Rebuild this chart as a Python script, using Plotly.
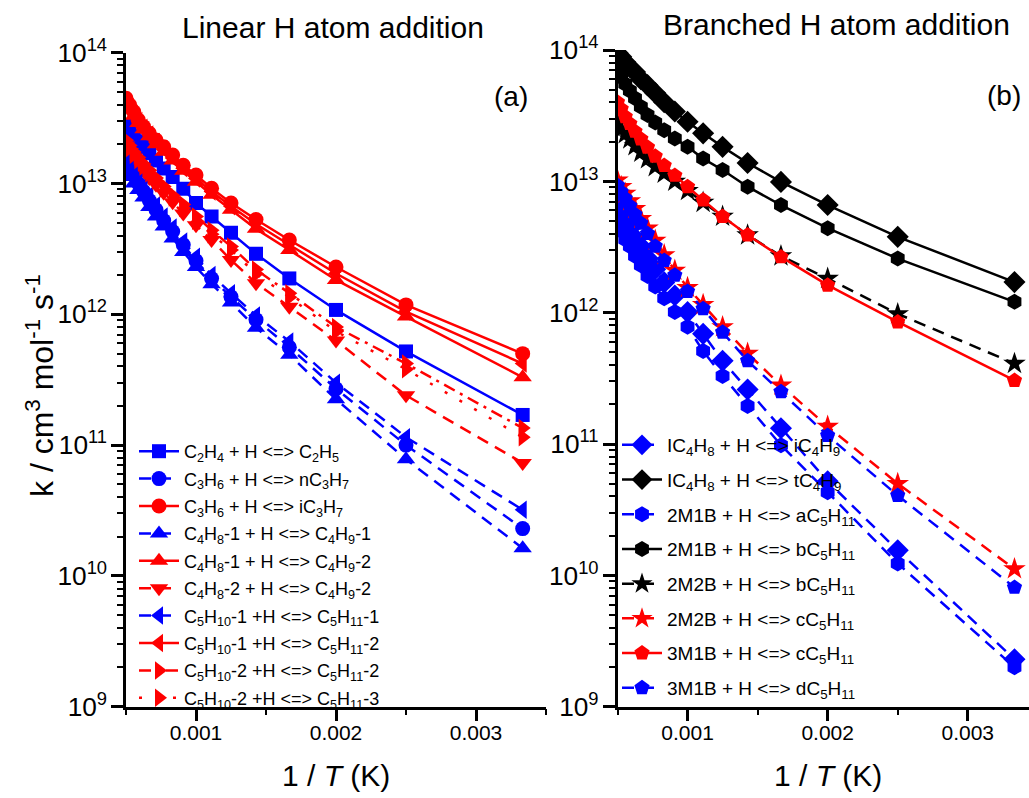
import plotly.graph_objects as go

# Temperatures (K); the x axis shows 1/T
T = [2000, 1900, 1800, 1700, 1600, 1500, 1400, 1300, 1200, 1100, 1000, 900, 800, 700, 600, 500, 400, 300]
inv_T = [1.0 / t for t in T]

# ---- (a) linear H atom addition, k in cm3 mol-1 s-1 ----
k_c2h5 = [2.8e13, 2.55e13, 2.3e13, 2.1e13, 1.9e13, 1.7e13, 1.5e13, 1.3e13, 1.12e13, 9.1e12,
          7.1e12, 5.6e12, 4.2e12, 2.9e12, 1.88e12, 1.08e12, 5.2e11, 1.7e11]
k_nc3h7 = [1.45e13, 1.29e13, 1.15e13, 1.0e13, 8.7e12, 7.4e12, 6.3e12, 5.2e12, 4.3e12, 3.4e12,
           2.57e12, 1.88e12, 1.36e12, 9.1e11, 5.6e11, 2.7e11, 1.0e11, 2.3e10]
k_ic3h7 = [4.48e13, 3.98e13, 3.54e13, 3.05e13, 2.72e13, 2.42e13, 2.15e13, 1.91e13, 1.65e13, 1.38e13,
           1.16e13, 9.2e12, 7.1e12, 5.3e12, 3.7e12, 2.3e12, 1.18e12, 5.0e11]
k_c4h9_1 = [1.26e13, 1.12e13, 1.0e13, 8.9e12, 7.8e12, 6.6e12, 5.6e12, 4.7e12, 3.8e12, 3.0e12,
            2.3e12, 1.7e12, 1.23e12, 7.9e11, 4.9e11, 2.24e11, 7.8e10, 1.63e10]
k_c4h9_2 = [4.1e13, 3.7e13, 3.3e13, 2.9e13, 2.6e13, 2.3e13, 2.0e13, 1.75e13, 1.5e13, 1.25e13,
            1.03e13, 8.2e12, 6.3e12, 4.5e12, 3.1e12, 1.83e12, 9.6e11, 3.3e11]
k_c4h8_2 = [1.95e13, 1.74e13, 1.58e13, 1.41e13, 1.26e13, 1.10e13, 9.8e12, 8.5e12, 7.2e12, 5.9e12,
            4.8e12, 3.7e12, 2.6e12, 1.73e12, 1.14e12, 6.3e11, 2.4e11, 7.3e10]
k_c5h11_1 = [1.58e13, 1.41e13, 1.26e13, 1.10e13, 9.5e12, 8.1e12, 6.8e12, 5.6e12, 4.6e12, 3.6e12,
             2.75e12, 2.0e12, 1.45e12, 9.8e11, 6.2e11, 3.0e11, 1.15e11, 3.2e10]
k_c5h11_2 = [4.3e13, 3.85e13, 3.42e13, 3.0e13, 2.67e13, 2.37e13, 2.08e13, 1.83e13, 1.57e13, 1.31e13,
             1.09e13, 8.7e12, 6.7e12, 4.9e12, 3.4e12, 2.05e12, 1.05e12, 4.2e11]
k_c5h10_2a = [2.14e13, 1.95e13, 1.74e13, 1.58e13, 1.41e13, 1.26e13, 1.10e13, 9.5e12, 8.1e12, 6.9e12,
              5.6e12, 4.4e12, 3.3e12, 2.2e12, 1.45e12, 8.0e11, 4.2e11, 1.35e11]
k_c5h10_2b = [2.04e13, 1.86e13, 1.66e13, 1.51e13, 1.35e13, 1.20e13, 1.05e13, 9.1e12, 7.8e12, 6.5e12,
              5.2e12, 4.1e12, 3.1e12, 2.04e12, 1.35e12, 7.4e11, 3.8e11, 1.15e11]

# ---- (b) branched H atom addition ----
k_ic4h9 = [6.3e12, 5.6e12, 5.0e12, 4.4e12, 3.7e12, 3.2e12, 2.6e12, 2.14e12, 1.7e12, 1.35e12,
           1.01e12, 6.9e11, 4.3e11, 2.6e11, 1.32e11, 5.2e10, 1.55e10, 2.3e9]
k_tc4h9 = [9.5e13, 8.9e13, 8.1e13, 7.4e13, 6.8e13, 6.0e13, 5.4e13, 4.7e13, 4.0e13, 3.4e13,
           2.84e13, 2.32e13, 1.83e13, 1.38e13, 9.9e12, 6.6e12, 3.78e12, 1.71e12]
k_2m1b_a = [4.8e12, 4.2e12, 3.6e12, 3.2e12, 2.7e12, 2.3e12, 1.9e12, 1.58e12, 1.29e12, 1.01e12,
            7.8e11, 5.1e11, 3.3e11, 1.95e11, 9.8e10, 4.3e10, 1.23e10, 2.0e9]
k_2m1b_b = [6.8e13, 6.2e13, 5.5e13, 4.9e13, 4.3e13, 3.7e13, 3.2e13, 2.8e13, 2.45e13, 2.12e13,
            1.83e13, 1.49e13, 1.22e13, 9.1e12, 6.6e12, 4.4e12, 2.58e12, 1.21e12]
k_2m2b_b = [2.75e13, 2.5e13, 2.3e13, 2.1e13, 1.86e13, 1.66e13, 1.48e13, 1.29e13, 1.15e13, 1.0e13,
            8.5e12, 6.9e12, 5.4e12, 3.9e12, 2.7e12, 1.82e12, 9.8e11, 4.1e11]
k_2m2b_c = [1.02e13, 9.1e12, 8.1e12, 7.1e12, 6.2e12, 5.2e12, 4.4e12, 3.55e12, 2.75e12, 2.1e12,
            1.55e12, 1.15e12, 7.8e11, 4.9e11, 2.8e11, 1.36e11, 5.0e10, 1.12e10]
k_3m1b_c = [4.0e13, 3.55e13, 3.1e13, 2.75e13, 2.4e13, 2.1e13, 1.82e13, 1.55e13, 1.32e13, 1.11e13,
            9.1e12, 7.2e12, 5.4e12, 3.9e12, 2.66e12, 1.62e12, 8.5e11, 3.05e11]
k_3m1b_d = [9.3e12, 8.3e12, 7.4e12, 6.5e12, 5.6e12, 4.8e12, 4.0e12, 3.2e12, 2.5e12, 1.93e12,
            1.45e12, 1.07e12, 7.1e11, 4.3e11, 2.5e11, 1.16e11, 4.05e10, 8.1e9]

ARROW = " &lt;=&gt; "
BLUE, RED, BLACK = "#0000ff", "#ff0000", "#000000"
DASH = "12px,8px"
DASHDOT = "12px,6px,3px,6px"
DOT = "3px,14px"

# marker size per symbol, so the shapes look equally heavy
SIZES = {"square": 14, "circle": 15, "triangle-up": 16, "triangle-down": 16,
         "triangle-left": 16, "triangle-right": 16, "diamond": 17, "hexagon": 16,
         "star": 17, "pentagon": 16}

series_a = [
    ("C<sub>2</sub>H<sub>4</sub> + H" + ARROW + "C<sub>2</sub>H<sub>5</sub>", k_c2h5, BLUE, "square", "solid"),
    ("C<sub>3</sub>H<sub>6</sub> + H" + ARROW + "nC<sub>3</sub>H<sub>7</sub>", k_nc3h7, BLUE, "circle", DASH),
    ("C<sub>3</sub>H<sub>6</sub> + H" + ARROW + "iC<sub>3</sub>H<sub>7</sub>", k_ic3h7, RED, "circle", "solid"),
    ("C<sub>4</sub>H<sub>8</sub>-1 + H" + ARROW + "C<sub>4</sub>H<sub>9</sub>-1", k_c4h9_1, BLUE, "triangle-up", DASH),
    ("C<sub>4</sub>H<sub>8</sub>-1 + H" + ARROW + "C<sub>4</sub>H<sub>9</sub>-2", k_c4h9_2, RED, "triangle-up", "solid"),
    ("C<sub>4</sub>H<sub>8</sub>-2 + H" + ARROW + "C<sub>4</sub>H<sub>9</sub>-2", k_c4h8_2, RED, "triangle-down", DASH),
    ("C<sub>5</sub>H<sub>10</sub>-1 +H" + ARROW + "C<sub>5</sub>H<sub>11</sub>-1", k_c5h11_1, BLUE, "triangle-left", DASH),
    ("C<sub>5</sub>H<sub>10</sub>-1 +H" + ARROW + "C<sub>5</sub>H<sub>11</sub>-2", k_c5h11_2, RED, "triangle-left", "solid"),
    ("C<sub>5</sub>H<sub>10</sub>-2 +H" + ARROW + "C<sub>5</sub>H<sub>11</sub>-2", k_c5h10_2a, RED, "triangle-right", DASHDOT),
    ("C<sub>5</sub>H<sub>10</sub>-2 +H" + ARROW + "C<sub>5</sub>H<sub>11</sub>-3", k_c5h10_2b, RED, "triangle-right", DOT),
]

series_b = [
    ("IC<sub>4</sub>H<sub>8</sub> + H" + ARROW + "iC<sub>4</sub>H<sub>9</sub>", k_ic4h9, BLUE, "diamond", DASH),
    ("IC<sub>4</sub>H<sub>8</sub> + H" + ARROW + "tC<sub>4</sub>H<sub>9</sub>", k_tc4h9, BLACK, "diamond", "solid"),
    ("2M1B + H" + ARROW + "aC<sub>5</sub>H<sub>11</sub>", k_2m1b_a, BLUE, "hexagon", DASH),
    ("2M1B + H" + ARROW + "bC<sub>5</sub>H<sub>11</sub>", k_2m1b_b, BLACK, "hexagon", "solid"),
    ("2M2B + H" + ARROW + "bC<sub>5</sub>H<sub>11</sub>", k_2m2b_b, BLACK, "star", DASH),
    ("2M2B + H" + ARROW + "cC<sub>5</sub>H<sub>11</sub>", k_2m2b_c, RED, "star", DASH),
    ("3M1B + H" + ARROW + "cC<sub>5</sub>H<sub>11</sub>", k_3m1b_c, RED, "pentagon", "solid"),
    ("3M1B + H" + ARROW + "dC<sub>5</sub>H<sub>11</sub>", k_3m1b_d, BLUE, "pentagon", DASH),
]

FONT = "Arial, Liberation Sans, sans-serif"
W, H = 1029, 798

fig = go.Figure()

def add_series(series, xa, ya, leg):
    for i, (name, k, color, sym, dash) in enumerate(series):
        fig.add_trace(go.Scatter(
            x=inv_T, y=k, mode="lines+markers", name=name,
            xaxis=xa, yaxis=ya, legend=leg, legendgroup=f"{leg}_{i}",
            line=dict(color=color, width=2.5, dash=dash),
            marker=dict(symbol=sym, size=SIZES[sym], color=color, line=dict(width=0)),
        ))

add_series(series_a, "x", "y", "legend")
add_series(series_b, "x2", "y2", "legend2")

# pixel -> paper helpers
def px(xp):
    return xp / W

def py(yp):
    return 1 - yp / H

dom_a = [px(126), px(546)]
dom_b = [px(617.5), 1.0]
ydom_a = [py(706.7), py(52.7)]
ydom_b = [py(706.7), py(50)]

x_range_a = [0.0005, 0.0035]
x_range_b = [0.0005, 0.003437]
y_range = [9, 14]

tickfont = dict(family=FONT, size=21, color="black")

def xax(domain, rng, anchor):
    return dict(domain=domain, range=rng, anchor=anchor, showgrid=False, zeroline=False,
                automargin=False,
                showline=True, linecolor="black", linewidth=2.5,
                tickmode="array", tickvals=[0.001, 0.002, 0.003], ticktext=["0.001", "0.002", "0.003"],
                ticks="outside", ticklen=12, tickwidth=2.5, tickcolor="black",
                minor=dict(tickmode="array", tickvals=[0.0005, 0.0015, 0.0025, 0.0035],
                           ticks="outside", ticklen=6, tickwidth=2, tickcolor="black"),
                tickfont=tickfont, ticklabelstandoff=-7)

def xtop(rng, overlay, anchor, domain):
    return dict(domain=domain, range=rng, overlaying=overlay, side="top", anchor=anchor,
                automargin=False,
                showgrid=False, zeroline=False, showline=True, linecolor="black", linewidth=2.5,
                tickmode="array", tickvals=[0.001, 0.002, 0.003], showticklabels=False,
                ticks="inside", ticklen=12, tickwidth=2.5, tickcolor="black",
                minor=dict(tickmode="array", tickvals=[0.0005, 0.0015, 0.0025, 0.0035],
                           ticks="inside", ticklen=6, tickwidth=2, tickcolor="black"))

def yax(domain, anchor):
    return dict(domain=domain, type="log", range=y_range, anchor=anchor, showgrid=False,
                automargin=False,
                zeroline=False, showline=True, linecolor="black", linewidth=2.5,
                dtick=1, exponentformat="power", showexponent="all",
                ticks="outside", ticklen=12, tickwidth=2.5, tickcolor="black",
                minor=dict(ticks="outside", ticklen=6, tickwidth=2, tickcolor="black", dtick="D1"),
                tickfont=tickfont, ticklabelstandoff=0)

def yright(domain, overlay, anchor):
    return dict(domain=domain, type="log", range=y_range, overlaying=overlay, side="right",
                anchor=anchor, showgrid=False, zeroline=False, showline=True, automargin=False,
                linecolor="black", linewidth=2.5, dtick=1, showticklabels=False,
                ticks="inside", ticklen=12, tickwidth=2.5, tickcolor="black",
                minor=dict(ticks="inside", ticklen=6, tickwidth=2, tickcolor="black", dtick="D1"))

def label(text, x, y, size, **kw):
    return dict(text=text, x=px(x), y=py(y), xref="paper", yref="paper", showarrow=False,
                xanchor="center", yanchor="middle", font=dict(family=FONT, size=size, color="black"), **kw)

fig.update_layout(
    width=W, height=H,
    margin=dict(l=0, r=0, t=0, b=0, autoexpand=False),
    paper_bgcolor="white", plot_bgcolor="white",
    font=dict(family=FONT, color="black"),
    xaxis=xax(dom_a, x_range_a, "y"),
    yaxis=yax(ydom_a, "x"),
    xaxis2=xax(dom_b, x_range_b, "y2"),
    yaxis2=yax(ydom_b, "x2"),
    xaxis3=xtop(x_range_a, "x", "y", dom_a),
    yaxis3=yright(ydom_a, "y", "x"),
    xaxis4=xtop(x_range_b, "x2", "y2", dom_b),
    legend=dict(x=px(134), y=py(433), xanchor="left", yanchor="top",
                bgcolor="rgba(0,0,0,0)", font=dict(family=FONT, size=18, color="black"),
                itemwidth=40, traceorder="grouped", tracegroupgap=1),
    legend2=dict(x=px(617), y=py(426), xanchor="left", yanchor="top",
                 bgcolor="rgba(0,0,0,0)", font=dict(family=FONT, size=19, color="black"),
                 itemwidth=40, traceorder="grouped", tracegroupgap=7),
    annotations=[
        label("Linear H atom addition", 333, 27, 30),
        label("Branched H atom addition", 836, 25, 30),
        label("(a)", 511, 97, 28),
        label("(b)", 1004, 95, 28),
        label("1 / <i>T</i> (K)", 336, 775, 30),
        label("1 / <i>T</i> (K)", 828, 775, 30),
        label("k / cm<sup>3</sup> mol<sup>-1</sup> s<sup>-1</sup>", 40, 386, 32, textangle=-90),
    ],
)

fig.write_html("out.html")
